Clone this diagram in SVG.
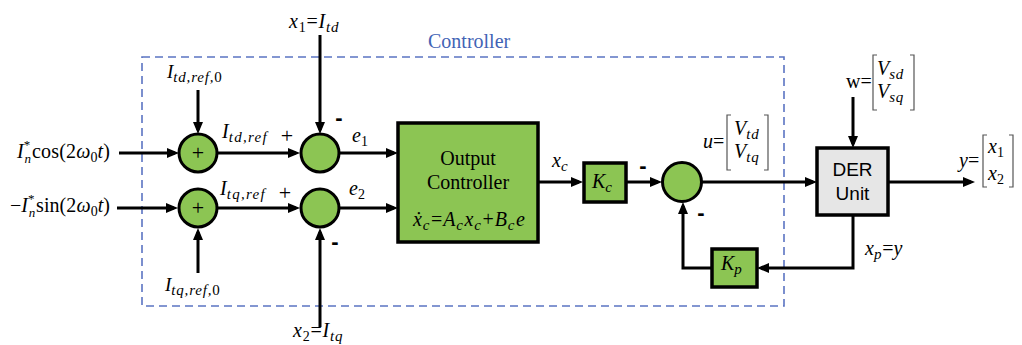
<svg xmlns="http://www.w3.org/2000/svg" width="1022" height="345" viewBox="0 0 1022 345">
<defs>
<style>
.ar{fill:none;stroke:#000;stroke-width:3;marker-end:url(#ah)}
.sum{fill:#8cc553;stroke:#000;stroke-width:3}
.blk{fill:#8cc553;stroke:#000;stroke-width:3.5}
.der{fill:#e6e6e6;stroke:#000;stroke-width:3.5}
.br{fill:none;stroke:#555;stroke-width:1.2}
.m{font-family:"Liberation Serif","Times New Roman",serif;font-size:20px;fill:#000}
.i{font-style:italic}
.sb{font-size:15px;font-style:italic;letter-spacing:0.8px}
.sn{font-size:14px;font-style:normal}
.sp{font-size:13px;font-style:normal}
.sg{font-family:"Liberation Sans",Arial,sans-serif;font-weight:bold;font-size:22px;fill:#000}
.pl{font-family:"Liberation Serif",serif;font-size:22px;fill:#000}
.sans{font-family:"Liberation Sans",Arial,sans-serif;font-size:19px;fill:#000}
.ctl{font-family:"Liberation Serif","Times New Roman",serif;font-size:20px;fill:#4263b5}
</style>
<marker id="ah" viewBox="0 0 12 10" refX="8" refY="5" markerWidth="12" markerHeight="10" markerUnits="userSpaceOnUse" orient="auto">
<path d="M0,0 L12,5 L0,10 z" fill="#000"/>
</marker>
</defs>
<rect width="1022" height="345" fill="#fff"/>

<g id="controller-boundary">
<rect x="142" y="57" width="642" height="249" fill="none" stroke="#5b74c2" stroke-width="1.6" stroke-dasharray="8 5"/>
<text class="ctl" x="428" y="48">Controller</text>
</g>

<g id="connectors">
<path class="ar" d="M119 153 H175"/>
<path class="ar" d="M117 208 H174"/>
<path class="ar" d="M198 90 V130"/>
<path class="ar" d="M198 273 V232"/>
<path class="ar" d="M217 153 H296"/>
<path class="ar" d="M217 208 H296"/>
<path class="ar" d="M320 35 V130"/>
<path class="ar" d="M320 327 V232"/>
<path class="ar" d="M339 153 H394"/>
<path class="ar" d="M339 208 H394"/>
<path class="ar" d="M538 182 H579"/>
<path class="ar" d="M627 182 H658"/>
<path class="ar" d="M701 182 H813"/>
<path class="ar" d="M888 182 H971"/>
<path class="ar" d="M853 97 V144"/>
<path class="ar" d="M853 215 V268 H761"/>
<path class="ar" d="M712 268 H683 V206"/>
</g>

<g id="sum-td-ref">
<circle class="sum" cx="198" cy="153" r="19"/>
<text class="pl" x="198" y="160" text-anchor="middle">+</text>
</g>
<g id="sum-tq-ref">
<circle class="sum" cx="198" cy="208" r="19"/>
<text class="pl" x="198" y="215" text-anchor="middle">+</text>
</g>
<g id="sum-e1">
<circle class="sum" cx="320" cy="153" r="19"/>
</g>
<g id="sum-e2">
<circle class="sum" cx="320" cy="208" r="19"/>
</g>
<g id="output-controller">
<rect class="blk" x="398" y="123" width="140" height="119"/>
<text class="m" x="468" y="165" text-anchor="middle">Output</text>
<text class="m" x="468" y="189" text-anchor="middle">Controller</text>
<text class="m" x="413" y="226" textLength="112" lengthAdjust="spacing"><tspan class="i">ẋ</tspan><tspan class="sb" dy="4">c</tspan><tspan dy="-4">=</tspan><tspan class="i">A</tspan><tspan class="sb" dy="4">c</tspan><tspan class="i" dy="-4">x</tspan><tspan class="sb" dy="4">c</tspan><tspan dy="-4">+</tspan><tspan class="i">B</tspan><tspan class="sb" dy="4">c</tspan><tspan class="i" dy="-4">e</tspan></text>
</g>
<g id="Kc">
<rect class="blk" x="584" y="163" width="42" height="39"/>
<text class="m" x="592" y="188"><tspan class="i">K</tspan><tspan class="sb" dy="4">c</tspan></text>
</g>
<g id="sum-u">
<circle class="sum" cx="682" cy="182" r="19.5"/>
</g>
<g id="DER-unit">
<rect class="der" x="817" y="148" width="71" height="67"/>
<text class="sans" x="852.5" y="176" text-anchor="middle">DER</text>
<text class="sans" x="852.5" y="200" text-anchor="middle">Unit</text>
</g>
<g id="Kp">
<rect class="blk" x="712" y="249" width="45" height="38"/>
<text class="m" x="721" y="270"><tspan class="i">K</tspan><tspan class="sb" dy="4">p</tspan></text>
</g>

<g id="labels">
<text class="m" x="17" y="158" textLength="93" lengthAdjust="spacing"><tspan class="i">I</tspan><tspan class="sp" dy="-9">*</tspan><tspan class="sb" style="font-size:13px" dx="-6" dy="14">n</tspan><tspan dy="-5">cos(2</tspan><tspan class="i">ω</tspan><tspan class="sn" dy="4">0</tspan><tspan class="i" dy="-4">t</tspan><tspan>)</tspan></text>
<text class="m" x="10" y="212" textLength="100" lengthAdjust="spacing"><tspan>−</tspan><tspan class="i">I</tspan><tspan class="sp" dy="-9">*</tspan><tspan class="sb" style="font-size:13px" dx="-6" dy="14">n</tspan><tspan dy="-5">sin(2</tspan><tspan class="i">ω</tspan><tspan class="sn" dy="4">0</tspan><tspan class="i" dy="-4">t</tspan><tspan>)</tspan></text>
<text class="m" x="167" y="78" style="font-size:19px"><tspan class="i">I</tspan><tspan class="sb" style="font-size:15px" dy="4">td,ref,</tspan><tspan class="sn" style="font-size:15px">0</tspan></text>
<text class="m" x="222" y="138"><tspan class="i">I</tspan><tspan class="sb" style="letter-spacing:1.3px" dy="4">td,ref</tspan></text>
<text class="m" x="220" y="195"><tspan class="i">I</tspan><tspan class="sb" style="letter-spacing:1.3px" dy="4">tq,ref</tspan></text>
<text class="m" x="165" y="291" style="font-size:19px"><tspan class="i">I</tspan><tspan class="sb" style="font-size:15px" dy="4">tq,ref,</tspan><tspan class="sn" style="font-size:15px">0</tspan></text>
<text class="m" x="289" y="28" style="letter-spacing:0.8px"><tspan class="i">x</tspan><tspan class="sn" dy="4">1</tspan><tspan dy="-4">=</tspan><tspan class="i">I</tspan><tspan class="sb" dy="4">td</tspan></text>
<text class="m" x="293" y="337" style="letter-spacing:0.8px"><tspan class="i">x</tspan><tspan class="sn" dy="4">2</tspan><tspan dy="-4">=</tspan><tspan class="i">I</tspan><tspan class="sb" dy="4">tq</tspan></text>
<text class="pl" x="287" y="143" text-anchor="middle">+</text>
<text class="pl" x="285" y="200" text-anchor="middle">+</text>
<text class="sg" x="339" y="125" text-anchor="middle">-</text>
<text class="sg" x="335" y="249" text-anchor="middle">-</text>
<text class="sg" x="643" y="173" text-anchor="middle">-</text>
<text class="sg" x="701" y="220" text-anchor="middle">-</text>
<text class="m" x="352" y="142"><tspan class="i">e</tspan><tspan class="sn" dy="4">1</tspan></text>
<text class="m" x="349" y="195"><tspan class="i">e</tspan><tspan class="sn" dy="4">2</tspan></text>
<text class="m" x="552" y="167"><tspan class="i">x</tspan><tspan class="sb" dy="4">c</tspan></text>
<text class="m" x="703" y="148"><tspan class="i">u</tspan><tspan>=</tspan></text>
<path class="br" d="M731 115 H727 V170 H731 M764 115 H768 V170 H764"/>
<text class="m" x="734" y="135"><tspan class="i">V</tspan><tspan class="sb" dy="4">td</tspan></text>
<text class="m" x="734" y="158"><tspan class="i">V</tspan><tspan class="sb" dy="4">tq</tspan></text>
<text class="m" x="846" y="88"><tspan>w=</tspan></text>
<path class="br" d="M877 55 H873 V110 H877 M910 55 H914 V110 H910"/>
<text class="m" x="877" y="75"><tspan class="i">V</tspan><tspan class="sb" dy="4">sd</tspan></text>
<text class="m" x="877" y="98"><tspan class="i">V</tspan><tspan class="sb" dy="4">sq</tspan></text>
<text class="m" x="959" y="167"><tspan class="i">y</tspan><tspan>=</tspan></text>
<path class="br" d="M987 135 H983 V187 H987 M1009 135 H1013 V187 H1009"/>
<text class="m" x="988" y="153"><tspan class="i">x</tspan><tspan class="sn" dy="4">1</tspan></text>
<text class="m" x="988" y="180"><tspan class="i">x</tspan><tspan class="sn" dy="4">2</tspan></text>
<text class="m" x="865" y="255"><tspan class="i">x</tspan><tspan class="sb" dy="4">p</tspan><tspan dy="-4">=</tspan><tspan class="i">y</tspan></text>
</g>
</svg>
